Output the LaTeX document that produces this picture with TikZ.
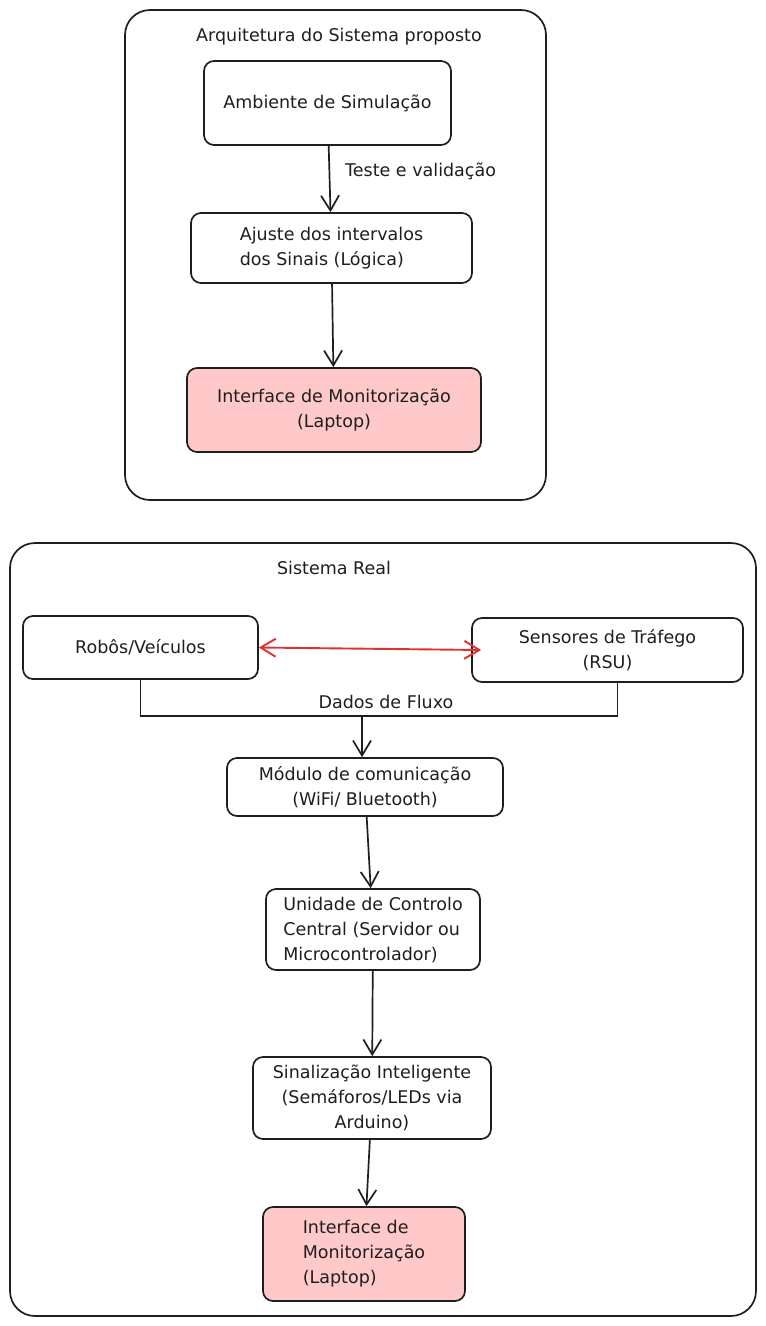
\documentclass[tikz,border=0pt]{standalone}
\usepackage{fontspec}
\setmainfont{DejaVu Sans}
\usetikzlibrary{arrows.meta}
\definecolor{ink}{HTML}{1E1E1E}
\definecolor{pinkfill}{HTML}{FFC9C9}
\definecolor{redline}{HTML}{E03131}
\begin{document}
\begin{tikzpicture}[x=1pt,y=-1pt]
		\tikzstyle{every node}+=[inner sep=0pt, text=ink, font=\fontsize{17.5}{25}\selectfont]
		\tikzstyle{box}=[draw=ink, line width=1.7pt, rounded corners=10pt, fill=white]
		\tikzstyle{pinkbox}=[box, fill=pinkfill]
		\tikzstyle{arrow}=[draw=ink, line width=1.7pt, -{Straight Barb[length=15pt,width=18pt]}]
		\useasboundingbox (0,0) rectangle (766,1326);
		% proposed architecture
		\draw [ink, line width=1.7pt, rounded corners=25pt] (125,10) rectangle (546,500);
		\draw (339,37) node (archtitle) {Arquitetura do Sistema proposto};
		\draw (327.5,103) node [box, minimum width=247pt, minimum height=84pt] (amb) {Ambiente de Simulação};
		\draw (331.5,248) node [box, minimum width=281pt, minimum height=70pt, align=left] (ajuste) {Ajuste dos intervalos\\dos Sinais (Lógica)};
		\draw (334,410) node [pinkbox, minimum width=294pt, minimum height=84pt, align=center] (monit) {Interface de Monitorização\\(Laptop)};
		\draw [arrow] (amb) -- (ajuste);
		\draw (345,171) node [anchor=west] (testlabel) {Teste e validação};
		\draw [arrow] (ajuste) -- (monit);
		% real system
		\draw [ink, line width=1.7pt, rounded corners=25pt] (10,543) rectangle (756,1316);
		\draw (334,568) node (realtitle) {Sistema Real};
		\draw (140.5,647.5) node [box, minimum width=235pt, minimum height=63pt] (robos) {Robôs/Veículos};
		\draw (607.5,650) node [box, minimum width=271pt, minimum height=64pt, align=center] (sensores) {Sensores de Tráfego\\(RSU)};
		\draw [redline, line width=1.9pt, {Straight Barb[length=15pt,width=18pt]}-{Straight Barb[length=15pt,width=18pt]}] (robos.east) -- ([xshift=10pt]sensores.west);
		\coordinate (merge) at (362,716);
		\draw [ink, line width=1.7pt] (robos.south) |- (merge) -| ([xshift=10pt]sensores.south);
		\draw (386,702) node (flowlabel) {Dados de Fluxo};
		\draw (365,787) node [box, minimum width=276pt, minimum height=58pt, align=center] (modulo) {Módulo de comunicação\\(WiFi/ Bluetooth)};
		\draw [arrow] (merge) -- (merge |- modulo.north);
		\draw (373,929.5) node [box, minimum width=214pt, minimum height=81pt, align=left] (unidade) {Unidade de Controlo\\Central (Servidor ou\\Microcontrolador)};
		\draw [arrow] (modulo) -- (unidade);
		\draw (372,1098) node [box, minimum width=238pt, minimum height=82pt, align=center] (sinal) {Sinalização Inteligente\\(Semáforos/LEDs via\\Arduino)};
		\draw [arrow] (unidade) -- (sinal);
		\draw (364,1254) node [pinkbox, minimum width=202pt, minimum height=94pt, align=left] (monitreal) {Interface de\\Monitorização\\(Laptop)};
		\draw [arrow] (sinal) -- (monitreal);
	\end{tikzpicture}
\end{document}
